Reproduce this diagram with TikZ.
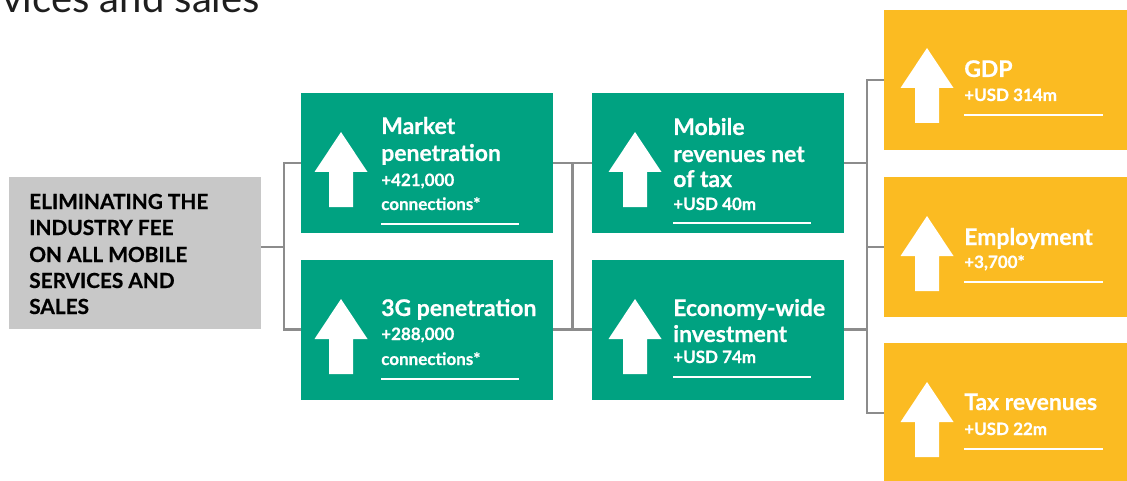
\documentclass[tikz,border=0pt]{standalone}
\usepackage{fontspec}
\setmainfont{Lato}[BoldFeatures={FakeBold=0.6}]
\usetikzlibrary{calc}
\definecolor{gsgreen}{RGB}{0,162,129}
\definecolor{gsyellow}{RGB}{251,187,34}
\definecolor{gsgray}{RGB}{200,200,200}
\definecolor{conngray}{RGB}{140,140,140}
\definecolor{titletext}{RGB}{30,30,30}
\newcommand\bigarrow[2]{\fill[white] (#1,#2) -- ++(26.5,40) -- ++(-14.5,0) -- ++(0,35) -- ++(-24,0) -- ++(0,-35) -- ++(-14.5,0) -- cycle;}
\begin{document}
\begin{tikzpicture}[x=0.75pt,y=-0.75pt,
  box/.style={draw=none, inner sep=0, minimum width=189pt, minimum height=105pt},
  greenbox/.style={box, fill=gsgreen},
  yellowbox/.style={box, fill=gsyellow, minimum width=192pt},
  graybox/.style={box, fill=gsgray, minimum height=114pt},
  conn/.style={draw=conngray, line width=2pt},
  ttl/.style={font=\fontsize{17.2}{20}\selectfont\bfseries, text=white, anchor=base west, inner sep=0},
  val/.style={font=\fontsize{12.75}{15}\selectfont\bfseries, text=white, anchor=base west, inner sep=0},
  graytxt/.style={font=\fontsize{15.6}{18}\selectfont\bfseries, text=black, anchor=base west, inner sep=0},
  uline/.style={draw=white, line width=0.8pt}]
\useasboundingbox (0,0) rectangle (1127,481);
\clip (0,0) rectangle (1127,481);

% heading (cut off)
\node[font=\fontsize{30}{34}\selectfont, text=titletext, anchor=base west, inner sep=0] (head) at (2,13) {vices and sales};

% boxes
\node[graybox] (g) at (135,253) {};
\node[greenbox] (m1) at (427,163) {};
\node[greenbox] (m2) at (427,329.5) {};
\node[greenbox] (r1) at (718,163) {};
\node[greenbox] (r2) at (718,329.5) {};
\node[yellowbox] (y1) at (1012,80) {};
\node[yellowbox] (y2) at (1012,247) {};
\node[yellowbox] (y3) at (1012,413) {};

% connectors
\coordinate (j1) at (284,247);
\draw[conn] ([yshift=4.5pt]g.east) -- (j1);
\draw[conn] (m1.west) -| (j1) |- (m2.west);
\coordinate (j2a) at ($(m1.east)!0.5!(r1.west)$);
\coordinate (j2b) at ($(m2.east)!0.5!(r2.west)$);
\draw[conn] (m1.east) -- (r1.west);
\draw[conn] (m2.east) -- (r2.west);
\draw[conn] (j2a) -- (j2b);
\coordinate (j3) at (867,247);
\draw[conn] (y1.west) -| (j3) |- (y3.west);
\draw[conn] (y2.west) -- (j3);
\draw[conn] (r1.east) -- (r1.east -| j3);
\draw[conn] (r2.east) -- (r2.east -| j3);

% arrows
\bigarrow{341}{132}
\bigarrow{341}{299}
\bigarrow{635}{132}
\bigarrow{635}{299}
\bigarrow{927}{48}
\bigarrow{927}{216}
\bigarrow{927}{382}

% gray text
\node[graytxt] (g1) at (29,209) {ELIMINATING THE};
\node[graytxt] (g2) at (29,235) {INDUSTRY FEE};
\node[graytxt] (g3) at (29,262) {ON ALL MOBILE};
\node[graytxt] (g4) at (29,288) {SERVICES AND};
\node[graytxt] (g5) at (29,314) {SALES};

% column 1
\node[ttl] (m1a) at (381,134) {Market};
\node[ttl] (m1b) at (381,161) {penetration};
\node[val] (m1c) at (381,186) {+421,000};
\node[val] (m1d) at (381,210) {connections*};
\draw[uline] (381,224) -- (519,224);
\node[ttl] (m2a) at (381,316) {3G penetration};
\node[val] (m2b) at (381,340) {+288,000};
\node[val] (m2c) at (381,365) {connections*};
\draw[uline] (381,379) -- (519,379);

% column 2
\node[ttl] (r1a) at (673,135) {Mobile};
\node[ttl] (r1b) at (673,162) {revenues net};
\node[ttl] (r1c) at (673,187) {of tax};
\node[val] (r1d) at (673,210) {+USD 40m};
\draw[uline] (673,223) -- (811,223);
\node[ttl] (r2a) at (673,316) {Economy-wide};
\node[ttl] (r2b) at (673,342) {investment};
\node[val] (r2c) at (673,363) {+USD 74m};
\draw[uline] (673,377) -- (811,377);

% column 3
\node[ttl] (y1a) at (964,77) {GDP};
\node[val] (y1b) at (964,101) {+USD 314m};
\draw[uline] (964,115) -- (1103,115);
\node[ttl] (y2a) at (964,245) {Employment};
\node[val] (y2b) at (964,268) {+3,700*};
\draw[uline] (964,282) -- (1103,282);
\node[ttl] (y3a) at (964,410) {Tax revenues};
\node[val] (y3b) at (964,435) {+USD 22m};
\draw[uline] (964,449) -- (1103,449);
\end{tikzpicture}
\end{document}
